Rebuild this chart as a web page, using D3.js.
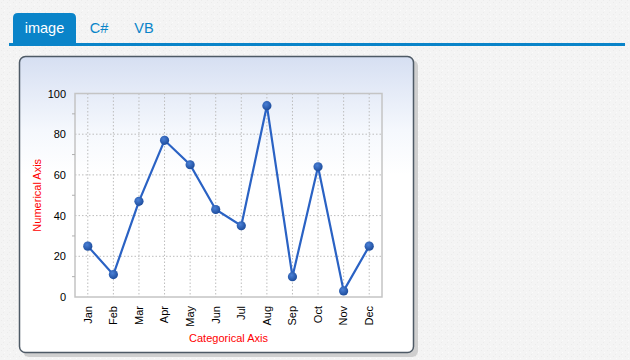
<!DOCTYPE html>
<html><head><meta charset="utf-8">
<script src="https://cdn.jsdelivr.net/npm/d3@7"></script>
<style>
html,body{margin:0;padding:0;background:#f3f3f3;}
svg{display:block;font-family:Arial,"Liberation Sans",sans-serif;}
</style></head>
<body>
<svg id="c" width="630" height="360"></svg>
<script>
const categories = ["Jan","Feb","Mar","Apr","May","Jun","Jul","Aug","Sep","Oct","Nov","Dec"];
const values = [25, 11, 47, 77, 65, 43, 35, 94, 10, 64, 3, 25];
const yTicks = [0, 20, 40, 60, 80, 100];
const yMinorTicks = [10, 30, 50, 70, 90];
const tabs = ["image", "C#", "VB"];

const svg = d3.select("#c");
const defs = svg.append("defs");

// background speckle
const pat = defs.append("pattern").attr("id","noise").attr("width",6).attr("height",6).attr("patternUnits","userSpaceOnUse");
pat.append("rect").attr("width",6).attr("height",6).attr("fill","#f4f4f4");
pat.append("rect").attr("x",1).attr("y",2).attr("width",1).attr("height",1).attr("fill","#ebebeb");
pat.append("rect").attr("x",4).attr("y",4).attr("width",1).attr("height",1).attr("fill","#fbfbfb");
pat.append("rect").attr("x",3).attr("y",0).attr("width",1).attr("height",1).attr("fill","#ececec");
svg.append("rect").attr("width",630).attr("height",360).attr("fill","url(#noise)");

// tabs
svg.append("path").attr("d","M13,43 L13,18 Q13,13 18,13 L71,13 Q76,13 76,18 L76,43 Z").attr("fill","#0a84c9");
svg.append("rect").attr("x",9).attr("y",43).attr("width",616).attr("height",3).attr("fill","#0a84c9");
const tabX = [44.5, 99, 144];
svg.selectAll("text.tab").data(tabs).join("text")
  .attr("x",(d,i)=>tabX[i]).attr("y",33).attr("text-anchor","middle")
  .attr("font-size",14.5).attr("fill",(d,i)=>i===0?"#ffffff":"#0a84c9").text(d=>d);

// card
const grad = defs.append("linearGradient").attr("id","cardg").attr("x1",0).attr("x2",0).attr("y1",0).attr("y2",1);
grad.append("stop").attr("offset","0").attr("stop-color","#d6dff2");
grad.append("stop").attr("offset","0.25").attr("stop-color","#f5f8fd");
grad.append("stop").attr("offset","0.4").attr("stop-color","#ffffff");
grad.append("stop").attr("offset","1").attr("stop-color","#ffffff");
svg.append("rect").attr("x",23).attr("y",60).attr("width",395).attr("height",297).attr("rx",6).attr("fill","#cfcfcf");
svg.append("rect").attr("x",19.5).attr("y",56.5).attr("width",394).attr("height",296).attr("rx",6)
  .attr("fill","url(#cardg)").attr("stroke","#4e5a66").attr("stroke-width",1.5);

// plot
const L=75, R=382, T=93.5, B=297;
const x = d3.scaleBand().domain(categories).range([L,R]).padding(0);
const y = d3.scaleLinear().domain([0,100]).range([B,T]);
const cx = d => x(d) + x.bandwidth()/2;

const g = svg.append("g");
g.selectAll("line.hg").data(yTicks.filter(v=>v>0 && v<100)).join("line")
  .attr("x1",L).attr("x2",R).attr("y1",d=>y(d)).attr("y2",d=>y(d))
  .attr("stroke","#bdbdbd").attr("stroke-dasharray","1.5,2").attr("stroke-width",1);
g.selectAll("line.vg").data(categories).join("line")
  .attr("x1",d=>cx(d)).attr("x2",d=>cx(d)).attr("y1",T).attr("y2",B)
  .attr("stroke","#bdbdbd").attr("stroke-dasharray","1.5,2").attr("stroke-width",1);
g.append("rect").attr("x",L).attr("y",T).attr("width",R-L).attr("height",B-T)
  .attr("fill","none").attr("stroke","#c4c4c4").attr("stroke-width",1.5);

// y axis
const yAxis = d3.axisLeft(y).tickValues(yTicks).tickSize(0).tickPadding(9);
const ya = svg.append("g").attr("transform",`translate(${L},0)`).call(yAxis);
ya.select(".domain").remove();
ya.selectAll("text").attr("font-size",11).attr("fill","#000").attr("font-family","Arial,'Liberation Sans',sans-serif");
svg.append("g").selectAll("line").data(yMinorTicks).join("line")
  .attr("x1",L-3).attr("x2",L).attr("y1",d=>y(d)).attr("y2",d=>y(d)).attr("stroke","#b0b0b0");

// x axis
const xAxis = d3.axisBottom(x).tickSize(0).tickPadding(0);
const xa = svg.append("g").attr("transform",`translate(0,${B})`).call(xAxis);
xa.select(".domain").remove();
xa.selectAll("text").attr("font-size",11).attr("fill","#000").attr("font-family","Arial,'Liberation Sans',sans-serif")
  .attr("transform","rotate(-90)").attr("text-anchor","end").attr("x",-9).attr("y",0).attr("dy","0.35em");

// axis titles
svg.append("text").attr("transform",`translate(41,${(T+B)/2}) rotate(-90)`).attr("text-anchor","middle")
  .attr("font-size",11).attr("fill","#ff0000").text("Numerical Axis");
svg.append("text").attr("x",(L+R)/2).attr("y",342).attr("text-anchor","middle")
  .attr("font-size",11).attr("fill","#ff0000").text("Categorical Axis");

// line
const data = categories.map((c,i)=>({c, v: values[i]}));
svg.append("path").datum(data)
  .attr("d", d3.line().x(d=>cx(d.c)).y(d=>y(d.v)))
  .attr("fill","none").attr("stroke","#2a62c4").attr("stroke-width",2.2);
const mg = defs.append("radialGradient").attr("id","mk").attr("cx","40%").attr("cy","35%").attr("r","65%");
mg.append("stop").attr("offset","0").attr("stop-color","#4a80d6");
mg.append("stop").attr("offset","1").attr("stop-color","#1d4c9c");
svg.selectAll("circle.pt").data(data).join("circle")
  .attr("cx",d=>cx(d.c)).attr("cy",d=>y(d.v)).attr("r",4.6).attr("fill","url(#mk)");
</script>
</body></html>
